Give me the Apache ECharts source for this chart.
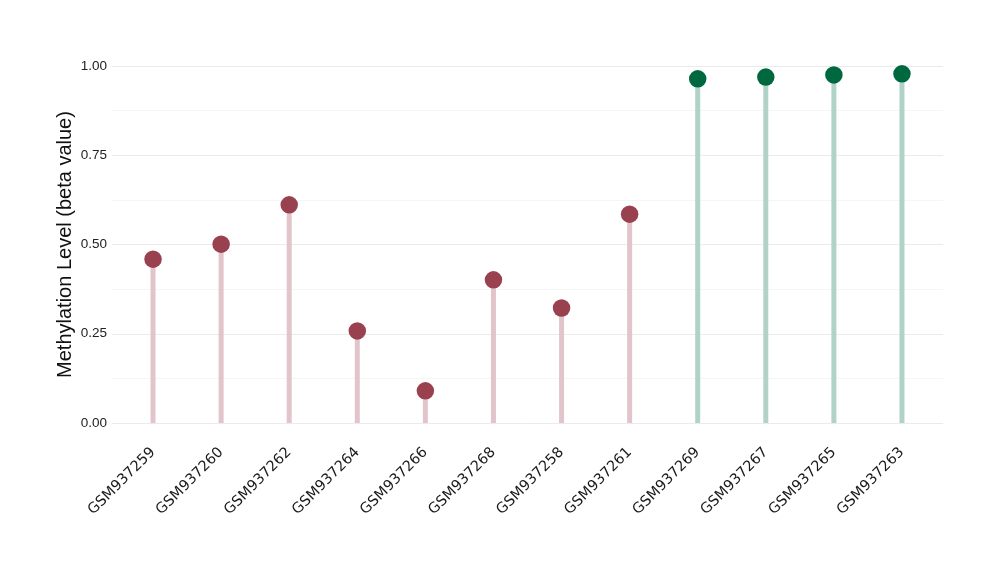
<!DOCTYPE html>
<html><head><meta charset="utf-8">
<script src="https://cdn.jsdelivr.net/npm/echarts@6/dist/echarts.min.js"></script>
<style>html,body{margin:0;padding:0;background:#fff}#c{width:1000px;height:580px}</style>
</head><body><div id="c"></div>
<script>
const samples = ['GSM937259','GSM937260','GSM937262','GSM937264','GSM937266','GSM937268','GSM937258','GSM937261','GSM937269','GSM937267','GSM937265','GSM937263'];
const beta = [0.459,0.501,0.611,0.258,0.090,0.401,0.322,0.585,0.964,0.969,0.975,0.978];
const group = ['low','low','low','low','low','low','low','low','high','high','high','high'];
const yTicks = [0, 0.25, 0.5, 0.75, 1.0];

const dotColor = {low:'#9A4150', high:'#00683F'};
const stemColor = {low:'#E1C5CB', high:'#B1D2C6'};

const yBase = {type:'value',min:yTicks[0],max:yTicks[yTicks.length-1],interval:0.25,
  axisLine:{show:false},axisTick:{show:false}};

const chart = echarts.init(document.getElementById('c'));
chart.setOption({
  animation:false,
  backgroundColor:'#fff',
  grid:[
    {left:112,right:57,top:66,bottom:157},
    {left:119,right:64,top:66,bottom:157}
  ],
  xAxis:[
    {gridIndex:0,type:'category',data:samples,show:false},
    {gridIndex:1,type:'category',data:samples,boundaryGap:true,
     axisLine:{show:false},axisTick:{show:false},splitLine:{show:false},
     axisLabel:{rotate:45,margin:27,fontSize:14.5,color:'#1a1a1a',fontFamily:'DejaVu Sans',interval:0}}
  ],
  yAxis:[
    Object.assign({gridIndex:0},yBase,{
      name:'Methylation Level (beta value)',nameLocation:'middle',nameGap:37,nameMoveOverlap:false,
      nameTextStyle:{fontSize:20,color:'#111',fontFamily:'Liberation Sans'},
      axisLabel:{fontSize:13.5,color:'#222',fontFamily:'Liberation Sans',margin:5,formatter:v=>v.toFixed(2)},
      splitLine:{lineStyle:{color:'#ebebeb',width:1}},
      minorTick:{show:false,splitNumber:2},
      minorSplitLine:{show:true,lineStyle:{color:'#f5f5f5',width:1}}}),
    Object.assign({gridIndex:1},yBase,{axisLabel:{show:false},splitLine:{show:false}})
  ],
  series:[
    {type:'bar',xAxisIndex:1,yAxisIndex:1,barWidth:5,silent:true,
     data:beta.map((v,i)=>({value:v,itemStyle:{color:stemColor[group[i]]}}))},
    {type:'scatter',xAxisIndex:1,yAxisIndex:1,symbolSize:17.5,clip:false,z:5,
     data:beta.map((v,i)=>({value:[i,v],itemStyle:{color:dotColor[group[i]],opacity:1}}))}
  ]
});
</script></body></html>
